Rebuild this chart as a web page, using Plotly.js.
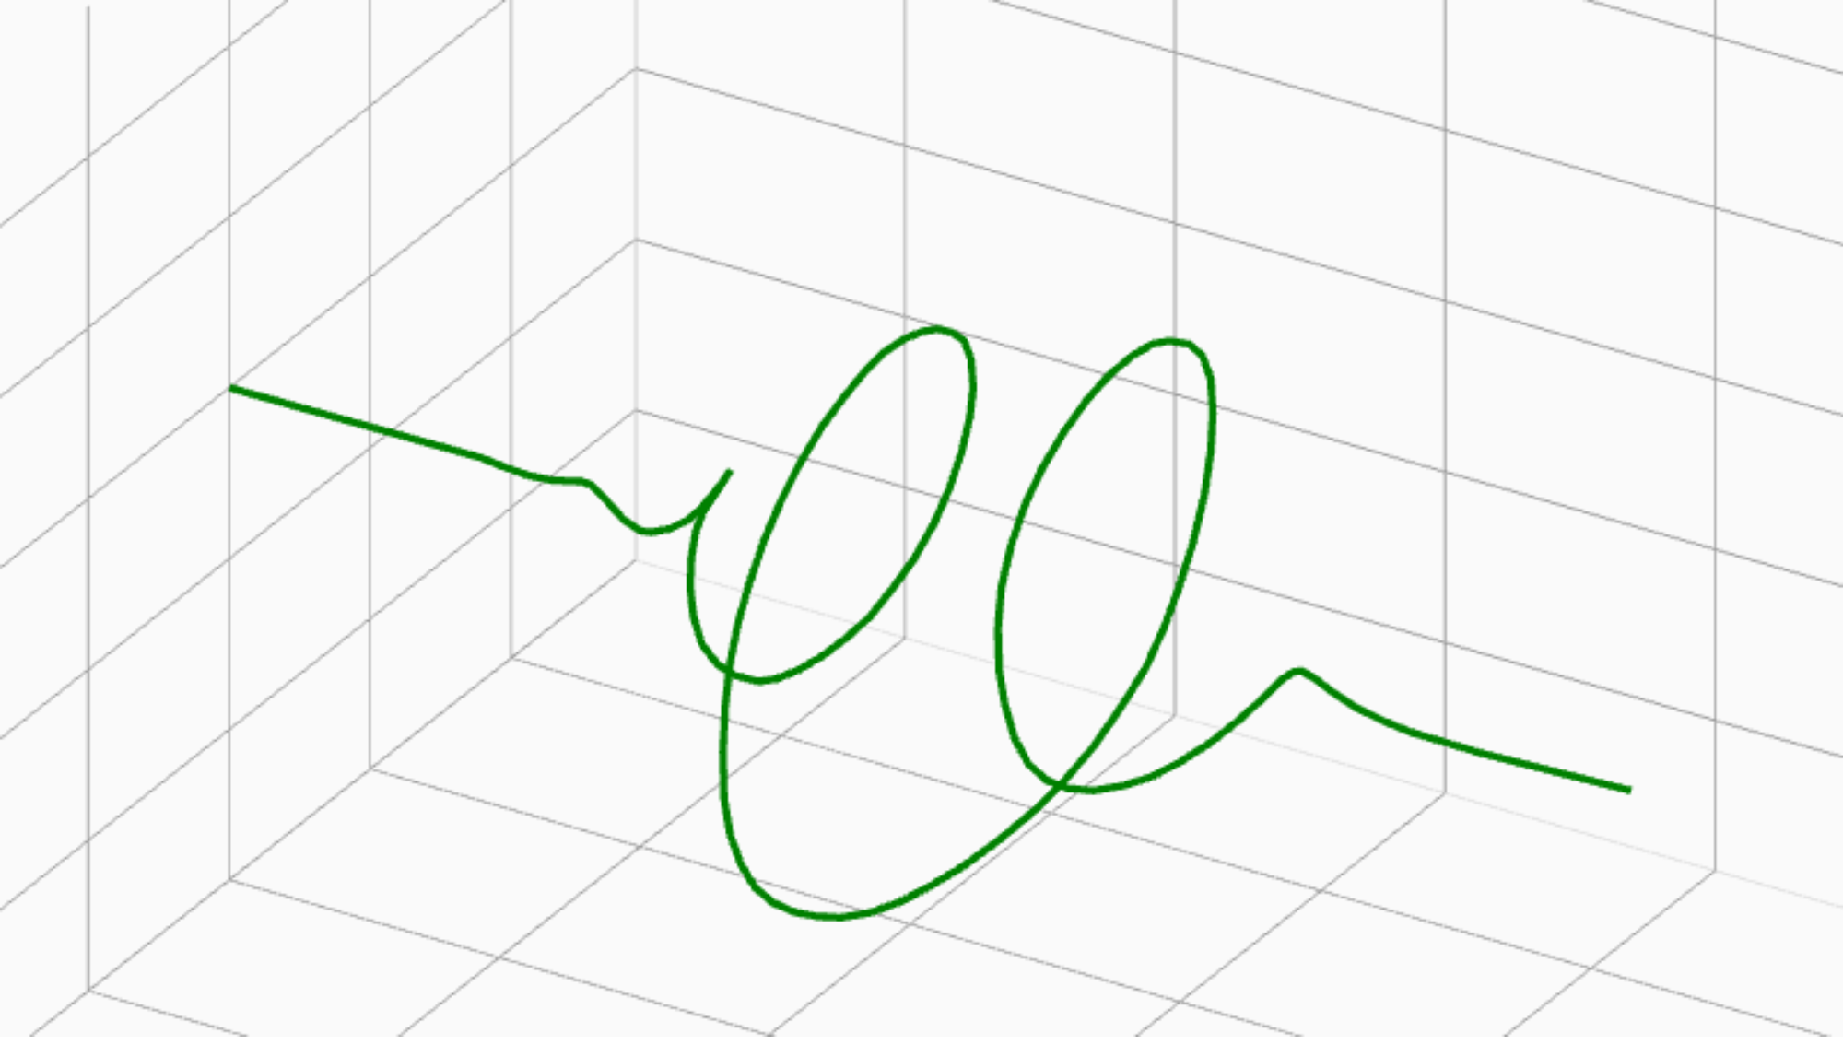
<!DOCTYPE html>
<html>
<head>
<meta charset="utf-8">
<script src="https://cdn.plot.ly/plotly-3.0.1.min.js"></script>
<style>
html,body{margin:0;padding:0;background:#fafafa;overflow:hidden}
#wrap{width:1843px;height:1037px;overflow:hidden;position:relative;background:#fafafa}
#chart{width:400px;height:225px;transform:scale(4.6075);transform-origin:0 0;position:absolute;left:0;top:0}
</style>
</head>
<body>
<div id="wrap"><div id="chart"></div></div>
<script>
// Curve samples (data units)
const curveX = [2.880,2.873,2.881,2.885,2.879,2.858,2.919,2.947,2.949,2.953,
2.924,2.855,2.785,2.741,2.713,2.702,2.700,2.872,3.046,3.169,
3.277,3.358,3.406,3.422,3.387,3.336,3.214,3.104,2.952,2.801,
2.652,2.500,2.349,2.214,2.088,1.995,1.928,1.885,1.876,1.908,
1.973,2.074,2.201,2.344,2.505,2.689,2.866,3.044,3.228,3.415,
3.591,3.750,3.887,4.005,4.099,4.167,4.218,4.246,4.239,4.200,
4.135,4.044,3.931,3.804,3.675,3.507,3.339,3.169,2.959,2.749,
2.538,2.369,2.201,2.031,1.905,1.820,1.750,1.690,1.647,1.643,
1.667,1.724,1.820,1.952,2.125,2.280,2.453,2.633,2.833,3.030,
3.211,3.367,3.497,3.595,3.650,3.672,3.663,3.627,3.558,3.463,
3.344,3.274,3.176,3.081,2.983,2.888,2.792,2.737,2.725,2.752,
2.807,2.817,2.845,2.870,2.885,2.894,2.896,2.880];
const curveY = [0,0.933,1.024,1.114,1.198,1.295,1.362,1.429,1.495,1.562,
1.591,1.620,1.649,1.678,1.707,1.736,1.765,1.803,1.842,1.880,
1.919,1.957,1.995,2.034,2.072,2.111,2.134,2.142,2.150,2.158,
2.167,2.175,2.183,2.191,2.199,2.207,2.216,2.224,2.232,2.240,
2.248,2.257,2.271,2.289,2.308,2.326,2.344,2.363,2.381,2.400,
2.418,2.436,2.455,2.473,2.492,2.510,2.528,2.547,2.565,2.584,
2.602,2.620,2.639,2.660,2.680,2.701,2.722,2.742,2.763,2.784,
2.804,2.825,2.846,2.866,2.887,2.908,2.928,2.949,2.970,2.990,
3.011,3.032,3.052,3.073,3.089,3.105,3.121,3.137,3.154,3.170,
3.186,3.202,3.218,3.234,3.250,3.266,3.283,3.299,3.315,3.331,
3.347,3.406,3.464,3.523,3.581,3.640,3.699,3.757,3.816,3.874,
3.933,3.986,4.075,4.175,4.283,4.383,4.646,5.194];
const curveZ = [0.000,0.008,-0.001,-0.006,0.001,0.025,0.074,0.040,-0.046,-0.082,
-0.094,-0.106,-0.089,-0.030,0.048,0.123,0.204,0.209,0.216,0.203,
0.133,0.031,-0.093,-0.223,-0.346,-0.429,-0.533,-0.587,-0.626,-0.639,
-0.628,-0.599,-0.522,-0.434,-0.306,-0.157,0.011,0.192,0.362,0.558,
0.707,0.825,0.934,1.021,1.093,1.139,1.144,1.124,1.087,1.011,
0.906,0.778,0.634,0.478,0.308,0.119,-0.114,-0.362,-0.565,-0.753,
-0.925,-1.065,-1.186,-1.286,-1.367,-1.439,-1.477,-1.489,-1.492,-1.467,
-1.424,-1.352,-1.252,-1.106,-0.959,-0.777,-0.573,-0.341,-0.071,0.177,
0.442,0.681,0.883,1.047,1.187,1.275,1.325,1.347,1.333,1.275,
1.194,1.082,0.934,0.764,0.566,0.347,0.143,-0.066,-0.255,-0.405,
-0.523,-0.556,-0.565,-0.546,-0.493,-0.418,-0.316,-0.202,-0.080,0.012,
0.082,0.071,0.040,0.012,-0.005,-0.015,-0.018,0.000];

// Axis ranges and tick placement
const xRange = [0, 5.76];
const yRange = [0, 5.2];
const zRange = [-2.88, 2.88];
const xTick0 = 2.88, yTick0 = 0, zTick0 = 0;
const tickStep = 1;

function axis(range, tick0, extra) {
  return Object.assign({
    range: range, autorange: false,
    tickmode: 'linear', tick0: tick0, dtick: tickStep,
    showticklabels: false, ticks: '', title: {text: ''},
    showgrid: true, gridcolor: 'rgb(158,158,158)', gridwidth: 1,
    zeroline: false, showline: false, showbackground: false,
    showspikes: false, showaxeslabels: false
  }, extra || {});
}

const trace = {
  type: 'scatter3d', mode: 'lines',
  x: curveX, y: curveY, z: curveZ,
  line: {color: 'green', width: 3.3},
  hoverinfo: 'skip', showlegend: false
};

const layout = {
  width: 400, height: 225,
  margin: {l: 0, r: 0, t: 0, b: 0, pad: 0},
  paper_bgcolor: 'rgb(250,250,250)',
  showlegend: false,
  scene: {
    domain: {x: [0, 1], y: [0, 1]},
    bgcolor: 'rgba(0,0,0,0)',
    xaxis: axis(xRange, xTick0, {zeroline: true, zerolinecolor: 'rgb(222,222,222)', zerolinewidth: 1}),
    yaxis: axis(yRange, yTick0),
    zaxis: axis(zRange, zTick0),
    aspectmode: 'manual',
    aspectratio: {x: 3.029, y: 3.164, z: 2.159},
    camera: {
      eye: {x: 4.279, y: 2.565, z: 2.854},
      center: {x: -0.2378, y: -0.1651, z: 0},
      up: {x: 0, y: 0, z: 1},
      projection: {type: 'orthographic'}
    },
    dragmode: false
  }
};

Plotly.newPlot('chart', [trace], layout, {displayModeBar: false, responsive: false, plotGlPixelRatio: 2});
</script>
</body>
</html>
